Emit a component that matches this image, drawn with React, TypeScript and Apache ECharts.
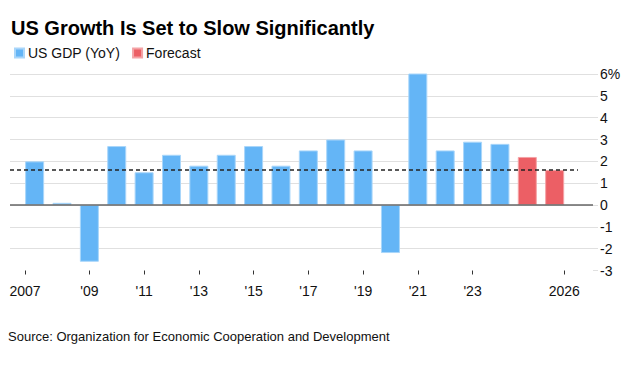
import React, { useEffect, useRef } from "react";
import * as echarts from "echarts";

const years = [2007, 2008, 2009, 2010, 2011, 2012, 2013, 2014, 2015, 2016, 2017, 2018, 2019, 2020, 2021, 2022, 2023, 2024, 2025, 2026];
const gdpValues = [2.0, 0.1, -2.6, 2.7, 1.5, 2.3, 1.8, 2.3, 2.7, 1.8, 2.5, 3.0, 2.5, -2.2, 6.1, 2.5, 2.9, 2.8, null, null];
const forecastValues = [null, null, null, null, null, null, null, null, null, null, null, null, null, null, null, null, null, null, 2.2, 1.6];
const trendValue = 1.6;
const tickYears = [2007, 2009, 2011, 2013, 2015, 2017, 2019, 2021, 2023, 2026];
const tickLabels = ["2007", "'09", "'11", "'13", "'15", "'17", "'19", "'21", "'23", "2026"];

const FONT = "'Liberation Sans', Arial, Helvetica, sans-serif";
const BLUE = "#64b5f6";
const RED = "#ec5f65";

export default function App() {
  const ref = useRef<HTMLDivElement>(null);
  useEffect(() => {
    if (!ref.current) return;
    const chart = echarts.init(ref.current, null, { renderer: "svg" });
    // tick positions: first tick at left edge of first bar, last at right edge of last bar
    const tickPos = tickYears.map((y, i) =>
      i === 0 ? y - 0.35 : i === tickYears.length - 1 ? y + 0.35 : y
    );
    const labelFor = (v: number) => {
      let best = 0;
      let bd = Infinity;
      tickPos.forEach((p, i) => {
        const d = Math.abs(p - v);
        if (d < bd) {
          bd = d;
          best = i;
        }
      });
      return tickLabels[best];
    };
    const xMin = 2006.1;
    const xMax = 2027.4;
    chart.setOption({
      animation: false,
      backgroundColor: "#ffffff",
      title: {
        text: "US Growth Is Set to Slow Significantly",
        left: 6,
        top: 13,
        textStyle: { fontFamily: FONT, fontSize: 20, fontWeight: "bold", color: "#000" },
      },
      legend: {
        left: 9,
        top: 41,
        icon: "rect",
        itemWidth: 9,
        itemHeight: 9,
        itemGap: 12,
        textStyle: { fontFamily: FONT, fontSize: 14, color: "#111", padding: [0, 0, 0, -1] },
        data: ["US GDP (YoY)", "Forecast"],
      },
      grid: { left: 10, right: 39, top: 74, bottom: 95.5, containLabel: false },
      xAxis: {
        type: "value",
        min: xMin,
        max: xMax,
        axisLine: { show: true, onZero: false, lineStyle: { color: "rgba(0,0,0,0)" } },
        splitLine: { show: false },
        axisTick: {
          show: true,
          customValues: tickPos,
          length: 4,
          lineStyle: { color: "#333", width: 1 },
        },
        axisLabel: {
          customValues: tickPos,
          formatter: (v: number) => labelFor(v),
          margin: 13,
          fontFamily: FONT,
          fontSize: 14,
          color: "#111",
          showMinLabel: true,
          showMaxLabel: true,
        },
      },
      yAxis: {
        type: "value",
        position: "right",
        min: -3,
        max: 6,
        interval: 1,
        axisLine: { show: false },
        axisTick: { show: true, length: 5, lineStyle: { color: "#e0e0e0", width: 1 } },
        splitLine: {
          show: true,
          lineStyle: {
            color: ["rgba(0,0,0,0)", "#e0e0e0", "#e0e0e0", "#e0e0e0", "#e0e0e0", "#e0e0e0", "#e0e0e0", "#e0e0e0", "#e0e0e0", "#e0e0e0"],
            width: 1,
          },
        },
        axisLabel: {
          margin: 7,
          fontFamily: FONT,
          fontSize: 14,
          color: "#111",
          formatter: (v: number) => (v === 6 ? "6%" : String(v)),
        },
      },
      series: [
        {
          name: "US GDP (YoY)",
          type: "bar",
          data: years.map((y, i) => [y, gdpValues[i]]),
          barWidth: 19,
          barGap: "-100%",
          itemStyle: { color: BLUE, borderColor: "#a9d6fa", borderWidth: 1 },
          markLine: {
            silent: true,
            symbol: "none",
            label: { show: false },
            data: [
              { yAxis: 0, lineStyle: { color: "#666", width: 1.5, type: "solid" } },
              [
                { coord: [xMin, trendValue], lineStyle: { color: "#222", width: 1.5, type: [4, 3] } },
                { coord: [2026.85, trendValue] },
              ],
            ],
          },
        },
        {
          name: "Forecast",
          type: "bar",
          data: years.map((y, i) => [y, forecastValues[i]]),
          barWidth: 19,
          barGap: "-100%",
          itemStyle: { color: RED, borderColor: "#f4a3a6", borderWidth: 1 },
        },
      ],
      graphic: [
        {
          type: "text",
          left: 8,
          top: 330,
          style: {
            text: "Source: Organization for Economic Cooperation and Development",
            fontFamily: FONT,
            fontSize: 13,
            fill: "#111",
          },
        },
      ],
    });
    return () => chart.dispose();
  }, []);
  return <div ref={ref} style={{ width: 632, height: 366, position: "absolute", left: 0, top: 0 }} />;
}
